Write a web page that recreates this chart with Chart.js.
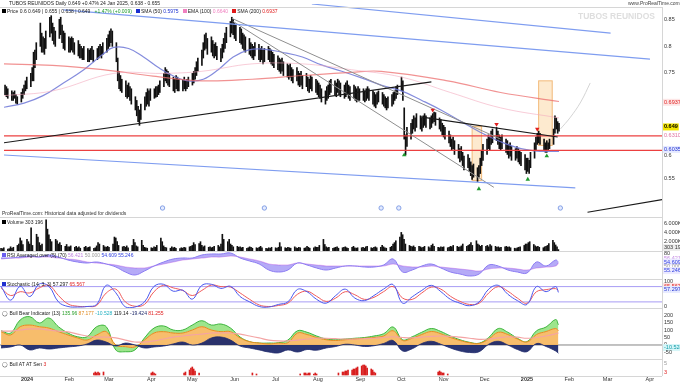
<!DOCTYPE html>
<html lang="en">
<head>
<meta charset="UTF-8" />
<title>Tubos Reunidos Daily</title>
<style>
  body { margin:0; padding:0; width:680px; height:383px; background:#fff; overflow:hidden; position:relative;
         font-family:"Liberation Sans", Arial, sans-serif; }
  .panel { position:absolute; left:0; width:680px; }
  .hline { position:absolute; left:0; width:662px; height:1px; background:#d6d6d6; }
  .vline { position:absolute; left:662px; top:7px; width:1px; height:369px; background:#d6d6d6; }
  .txt { position:absolute; font-size:5px; line-height:6px; white-space:nowrap; color:#222; }
  .sq { display:inline-block; width:4px; height:4px; margin-right:1px; }
</style>
</head>
<body>
<div class="panel" style="top:0;height:218px"><canvas id="cMain"></canvas></div>
<div class="panel" style="top:218px;height:33px"><canvas id="cVol"></canvas></div>
<div class="panel" style="top:251px;height:28px"><canvas id="cRsi"></canvas></div>
<div class="panel" style="top:279px;height:29px"><canvas id="cSto"></canvas></div>
<div class="panel" style="top:308px;height:51px"><canvas id="cBb"></canvas></div>
<div class="panel" style="top:359px;height:24px"><canvas id="cSig"></canvas></div>

<div class="hline" style="top:7px"></div>
<div class="hline" style="top:217px"></div>
<div class="hline" style="top:251px"></div>
<div class="hline" style="top:279px"></div>
<div class="hline" style="top:308px"></div>
<div class="hline" style="top:359px"></div>
<div class="hline" style="top:376px"></div>
<div class="vline"></div>

<div class="txt" style="left:9px;top:0">TUBOS REUNIDOS Daily 0.649 +0.47% 24 Jan 2025, 0.638 - 0.655</div>
<div class="txt" style="left:628px;top:0;color:#444">www.ProRealTime.com</div>
<div class="txt" style="left:578px;top:11px;font-size:8.5px;line-height:10px;font-weight:bold;color:#dedede">TUBOS REUNIDOS</div>
<div class="txt" style="left:2px;top:8px"><span class="sq" style="background:#000"></span>Price 0.6 0.649 | 0.655 | 0.638 | 0.649 &nbsp; <span style="color:#1c9a2c">+1.47% (+0.009)</span> &nbsp; <span class="sq" style="background:#1a2fd0"></span>SMA (50) <span style="color:#1a2fd0">0.5975</span> &nbsp; <span class="sq" style="background:#f080c0"></span>EMA (100) <span style="color:#f080c0">0.6640</span> &nbsp; <span class="sq" style="background:#e01818"></span>SMA (200) <span style="color:#e01818">0.6937</span></div>
<div class="txt" style="left:2px;top:210px;color:#333">ProRealTime.com: Historical data adjusted for dividends</div>
<div class="txt" style="left:2px;top:219px"><span class="sq" style="background:#000"></span>Volume 303 196</div>
<div class="txt" style="left:2px;top:252px"><span class="sq" style="background:#6a5cf0"></span>RSI Averaged over (5) (70) <span style="color:#c080e0">56.421</span> <span style="color:#999">50.000</span> <span style="color:#3040e0">54.609</span> <span style="color:#3040e0">55.246</span></div>
<div class="txt" style="left:2px;top:281px"><span class="sq" style="background:#2030d0"></span>Stochastic (14, 3, 3) 57.297 <span style="color:#e02020">65.567</span></div>
<div class="txt" style="left:2px;top:310px">&#9711; Bull Bear Indicator (13) <span style="color:#2ca02c">135.96</span> <span style="color:#e08a20">87.177</span> <span style="color:#20b0c0">-10.528</span> 119.14 <span style="color:#1f2a6b">-19.424</span> <span style="color:#e02020">81.255</span></div>
<div class="txt" style="left:2px;top:361px">&#9711; Bull AT AT Sen <span style="color:#e02020">3</span></div>

<script src="https://cdn.jsdelivr.net/npm/chart.js"></script>
<script>
// ---- data ----
const monthTicks = ['2024-01-01','2024-02-01','2024-03-01','2024-04-01','2024-05-01','2024-06-01','2024-07-01','2024-08-01',
  '2024-09-01','2024-10-01','2024-11-01','2024-12-01','2025-01-01','2025-02-01','2025-03-01','2025-04-01'];
const monthLabels = ['2024','Feb','Mar','Apr','May','Jun','Jul','Aug','Sep','Oct','Nov','Dec','2025','Feb','Mar','Apr'];

// daily bars from 13 Dec 2023 to 24 Jan 2025 (weekdays), prices x1000
const priceHigh = [
  727,724,720,716,713,716,709,705,713,720,727,735,742,
  749,760,789,793,807,844,825,818,815,829,855,858,844,836,829,851,855,840,829,825,818,815,818,
  815,807,811,804,800,796,800,796,793,796,800,793,796,800,804,800,807,815,822,829,833,
  829,807,778,753,745,738,735,727,731,724,720,705,698,687,680,691,705,713,720,716,720,
  720,724,724,727,735,749,760,756,753,749,742,738,745,742,738,738,742,735,738,742,749,753,
  760,771,778,793,807,822,825,815,818,811,804,807,800,796,804,815,825,836,847,855,851,844,840,
  836,833,825,822,818,815,807,804,800,807,804,796,800,793,796,800,796,793,789,785,
  782,778,775,778,771,767,764,767,760,756,760,753,749,753,745,749,742,738,745,742,738,735,731,
  727,720,716,724,727,735,738,735,731,738,735,731,727,731,735,727,724,727,724,720,724,720,
  720,716,720,724,720,716,713,709,713,716,713,709,705,702,705,709,713,716,724,727,742,
  735,684,633,647,655,662,669,665,673,669,665,669,673,669,665,669,673,676,675,665,662,655,651,
  647,640,633,625,629,622,615,607,611,600,593,596,589,582,575,578,571,575,589,604,615,
  625,633,629,640,644,647,640,633,629,633,625,622,615,618,611,607,611,607,604,600,596,589,
  589,585,600,618,629,636,640,636,625,618,622,618,625,644,669,665,658,655
];
const priceLow = [
  709,705,702,698,698,702,693,691,695,702,709,716,720,
  724,735,735,760,775,800,789,789,785,796,818,825,811,804,800,815,822,807,796,793,789,789,793,
  789,785,782,778,778,775,775,771,771,775,775,771,775,778,782,778,785,789,796,800,807,
  800,771,735,720,716,713,705,702,705,698,691,680,669,658,651,662,680,687,691,687,698,
  702,704,705,709,713,724,735,731,727,724,716,713,720,716,716,716,720,716,720,724,727,731,
  738,745,753,764,778,793,796,785,789,782,778,782,775,771,778,789,796,807,818,825,822,815,811,
  807,804,796,793,789,785,782,778,775,782,775,771,775,767,771,775,771,767,764,760,
  756,753,749,753,745,742,738,742,735,731,735,727,724,727,720,724,716,713,720,716,713,709,705,
  702,695,691,698,702,709,713,709,705,713,709,705,702,705,709,702,698,702,698,695,698,698,
  698,695,698,702,698,691,687,684,691,695,691,687,684,680,684,687,691,698,702,709,716,
  698,625,595,611,625,636,644,640,647,644,640,647,651,647,644,647,655,658,651,644,640,633,629,
  625,618,611,604,607,596,589,582,585,575,567,571,564,556,549,553,545,553,560,575,585,
  596,607,604,615,618,622,615,607,604,607,600,596,589,593,585,585,589,582,578,575,567,560,
  564,560,571,589,604,615,618,615,604,600,600,604,607,615,636,644,636,640
];
// volume in thousands
const volume = [
  600,500,700,400,500,900,600,800,1200,1500,2800,2200,1400,
  2500,2000,1500,5000,1200,3600,3000,1800,1200,1500,6700,4700,3500,2500,2000,2500,2200,1500,1800,1200,1000,1400,900,
  900,1100,800,1000,700,900,600,800,1000,700,800,900,600,700,1100,1800,1500,1200,900,800,1000,
  800,1500,3000,2800,2000,1200,900,1000,800,1100,700,1200,2500,1800,1100,900,2300,1200,800,700,600,
  700,600,900,800,1200,2800,2000,1100,800,700,600,900,700,800,600,500,700,600,800,700,900,1000,
  1200,1800,1400,1600,2000,1200,900,1100,800,900,700,800,1000,1200,900,1500,3600,2500,2000,2500,1500,1200,900,
  1000,800,900,700,800,600,700,900,800,600,700,600,800,1000,700,600,500,700,600,800,
  700,600,800,1800,900,700,600,800,700,600,900,700,600,800,700,600,700,1000,800,600,700,900,800,
  800,1200,2500,1400,900,700,800,600,700,800,900,600,700,800,900,700,600,800,1000,700,600,700,
  700,800,600,900,1000,700,600,800,900,700,800,1200,900,700,600,800,1000,1500,1800,2200,3000,
  4000,3500,2500,1500,1200,1000,900,1100,800,1000,900,700,800,1000,900,700,1200,1500,1000,800,700,900,800,
  900,700,800,1000,900,1200,1000,800,900,1100,1500,1000,1200,1400,1800,1200,2200,1500,1300,1000,1200,
  1000,1200,900,1400,1100,1000,800,900,700,800,900,1000,800,900,700,600,500,700,800,900,1200,1500,
  1500,1800,2000,1400,1100,900,1000,800,700,900,1000,1200,1600,2300,1800,1300,900,303
];

const sma50Dates = ['2023-12-12','2023-12-27','2024-01-10','2024-01-25','2024-02-09','2024-02-23','2024-03-02','2024-03-13',
  '2024-03-24','2024-04-04','2024-04-15','2024-04-26','2024-05-07','2024-05-18','2024-05-29','2024-06-09','2024-06-20',
  '2024-07-04','2024-07-19','2024-08-02','2024-08-17','2024-09-01','2024-09-15','2024-09-30','2024-10-15','2024-10-29',
  '2024-11-13','2024-11-27','2024-12-12','2024-12-27','2025-01-10','2025-01-24'];
const sma50Values = [0.685,0.693,0.707,0.731,0.756,0.785,0.798,0.796,0.780,0.760,0.744,0.735,0.738,0.756,0.780,0.793,0.795,
  0.789,0.780,0.765,0.753,0.740,0.727,0.716,0.698,0.680,0.658,0.638,0.620,0.607,0.602,0.602];
const sma200Dates = ['2023-12-12','2024-01-17','2024-02-23','2024-03-31','2024-05-06','2024-06-12','2024-07-19',
  '2024-08-24','2024-09-15','2024-11-03','2024-12-12','2025-01-24'];
const sma200Values = [0.767,0.764,0.756,0.744,0.735,0.738,0.745,0.751,0.753,0.735,0.713,0.696];
const ema100Dates = ['2023-12-12','2024-01-17','2024-03-02','2024-04-07','2024-05-06','2024-06-12','2024-07-19',
  '2024-08-24','2024-09-30','2024-11-05','2024-12-12','2025-01-24'];
const ema100Values = [0.707,0.716,0.749,0.749,0.753,0.767,0.767,0.756,0.742,0.713,0.684,0.665];

// drawn trend lines: [start date, start price, end date, end price]
const blueLines = [
  ['2024-01-25',0.869,'2025-04-01',0.776],
  ['2024-07-26',0.880,'2025-03-03',0.825],
  ['2023-12-12',0.595,'2025-02-05',0.533]
];
const blackLines = [
  ['2023-12-12',0.618,'2024-10-22',0.733],
  ['2024-10-14',0.667,'2025-01-23',0.629],
  ['2025-02-14',0.487,'2025-04-10',0.511]
];
const greyLines = [
  ['2024-05-28',0.853,'2024-12-12',0.625],
  ['2024-05-29',0.847,'2024-12-07',0.534]
];
const redLevels = [0.631, 0.6036];
const projDates = ['2025-01-25','2025-02-01','2025-02-09','2025-02-16'];
const projValues = [0.644,0.665,0.695,0.731];
const boxes = [['2024-11-21','2024-11-28',0.649,0.547], ['2025-01-09','2025-01-19',0.735,0.613]];
const upArrowDates = ['2024-10-02','2024-11-26','2025-01-01','2025-01-15'];
const upArrowValues = [0.595,0.531,0.549,0.593];
const downArrowDates = ['2024-10-23','2024-12-09','2025-01-08'];
const downArrowValues = [0.680,0.653,0.644];
const eventDates = ['2024-04-07','2024-06-21','2024-09-15','2024-09-28','2025-01-25'];

// weekly readings of the indicator panels (13 Dec 2023 every 7 days, then 24 Jan 2025)
const rsiFast = [67.5,67.5,70,72.5,70,75,70,62.5,57.5,55,57.5,52.5,45,32.5,25,35,47.5,57.5,65,67.5,67.5,75,77.5,77.5,80,67.5,60,52.5,37.5,32.5,37.5,55,
  50,42.5,37.5,42.5,47.5,47.5,45,45,50,65,32.5,37.5,47.5,52.5,42.5,32.5,27.5,22.5,27.5,50,47.5,37.5,32.5,30,57.5,47.5,62.5,57.5];
const rsiSlow = [65,67.5,67.5,70,70,70,67.5,65,62.5,57.5,55,52.5,50,45,42.5,42.5,47.5,52.5,57.5,62.5,65,67.5,70,70,72.5,70,65,60,52.5,50,50,55,
  52.5,50,47.5,47.5,47.5,47.5,47.5,47.5,47.5,52.5,47.5,45,45,47.5,45,42.5,40,37.5,35,40,42.5,42.5,40,37.5,42.5,45,47.5,55];
const stochK = [81,27,81,41,90,81,20,2,0,2,10,85,56,0,0,20,81,89,62,66,31,85,89,73,81,41,20,2,0,10,20,69,
  60,30,15,45,70,35,25,45,70,88,15,40,65,85,60,30,15,5,20,70,85,50,25,10,80,60,80,57.3];
const stochD = [75,45,60,55,75,85,45,12,3,2,6,55,70,20,3,10,60,85,75,65,45,65,86,80,78,55,30,8,2,6,15,50,
  62,42,22,35,60,48,30,38,60,80,35,30,55,78,70,42,22,10,15,55,80,62,35,15,60,68,72,65.6];
const bbGreen = [95,80,167,189,147,180,122,80,55,55,122,122,-33,-45,-33,47,113,127,100,100,133,162,133,140,113,53,22,13,13,15,33,95,
  85,60,40,35,40,45,50,60,75,120,35,55,85,110,90,60,35,18,12,50,110,85,45,22,95,120,170,135];
const bbOrange = [89,67,122,133,122,113,89,67,47,33,67,89,0,-11,-13,33,80,89,80,80,100,122,100,89,89,47,22,13,7,13,15,80,
  70,50,35,30,35,40,45,50,60,95,30,45,70,90,75,50,30,15,10,40,85,70,40,20,70,90,110,95];
const bbNavy = [-20,-13,0,-33,-20,-27,-20,-13,-7,7,33,20,-7,13,0,-20,-13,-7,7,20,0,13,47,53,33,-7,-20,-33,-47,-53,-33,-47,
  -30,-35,-20,-10,5,0,-10,-5,10,30,-40,-25,10,25,5,-20,-40,-50,-45,5,25,0,-30,-45,10,-10,-40,-55];
const bbSignal = [93,93,100,107,107,100,93,87,73,60,53,53,47,33,20,20,27,40,53,60,67,73,80,80,80,73,60,47,33,27,27,33,
  40,45,45,42,40,40,42,45,50,55,50,48,52,58,60,58,52,45,38,40,48,55,52,45,50,60,75,81];

const signalDates = ['2024-02-19','2024-02-20','2024-02-21','2024-02-22','2024-02-23','2024-02-26',
  '2024-04-01','2024-04-02','2024-04-03','2024-04-04',
  '2024-04-25','2024-04-26','2024-04-29','2024-04-30','2024-05-01','2024-05-02','2024-05-03','2024-05-06',
  '2024-06-14','2024-06-17',
  '2024-07-19','2024-07-22','2024-07-23','2024-07-24','2024-07-25','2024-07-26','2024-07-29','2024-07-30','2024-07-31',
  '2024-08-16','2024-08-19','2024-08-20','2024-08-21','2024-08-22','2024-08-23','2024-08-26','2024-08-27','2024-08-28',
  '2024-08-29','2024-08-30','2024-09-02','2024-09-03','2024-09-04','2024-09-05','2024-09-06','2024-09-09','2024-09-10',
  '2024-09-11','2024-09-12',
  '2024-10-28','2024-10-29','2024-10-30','2024-10-31','2024-11-01','2024-11-04'];
const signalValues = [2,3,2,3,2,3, 2,3,2,1, 2,3,5,7,8,6,4,2, 2,1, 1,2,2,1,2,2,1,2,1,
  2,3,3,4,4,5,5,6,6,7,8,9,10,10,9,7,6,5,3,2, 3,4,3,2,2,1];

// ---- helpers ----
const DAY0 = Date.UTC(2024, 0, 1);
function day(s) { return Math.round((Date.parse(s + 'T00:00:00Z') - DAY0) / 86400000); }
const X_MIN = -19.77, X_MAX = 464.86;

const tradeDays = [];
for (let d = day('2023-12-13'); tradeDays.length < priceHigh.length; d++) {
  const wd = new Date(DAY0 + d * 86400000).getUTCDay();
  if (wd !== 0 && wd !== 6) tradeDays.push(d);
}
const indDays = [];
for (let d = day('2023-12-13'); d <= day('2025-01-24'); d += 7) indDays.push(d);
indDays.push(day('2025-01-24'));

const pts = (days, vals) => days.map((d, i) => ({ x: d, y: vals[i] }));
const datePts = (dates, vals) => dates.map((s, i) => ({ x: day(s), y: vals[i] }));
const flat = (v) => [{ x: X_MIN, y: v }, { x: X_MAX, y: v }];

Chart.defaults.font.family = '"Liberation Sans", Arial, sans-serif';

const overlay = {
  id: 'overlay',
  beforeDatasetsDraw(chart, args, opts) {
    const { ctx, scales: { x, y } } = chart;
    (opts.boxes || []).forEach(b => {
      const x0 = x.getPixelForValue(day(b[0])), x1 = x.getPixelForValue(day(b[1]));
      const y0 = y.getPixelForValue(b[2]), y1 = y.getPixelForValue(b[3]);
      ctx.save();
      ctx.fillStyle = 'rgba(252,214,160,0.5)';
      ctx.fillRect(x0, y0, x1 - x0, y1 - y0);
      ctx.strokeStyle = 'rgba(242,180,110,0.9)';
      ctx.lineWidth = 1;
      ctx.strokeRect(x0, y0, x1 - x0, y1 - y0);
      ctx.restore();
    });
  },
  afterDraw(chart, args, opts) {
    const { ctx, chartArea, scales: { x, y } } = chart;
    ctx.save();
    (opts.events || []).forEach(s => {
      const px = x.getPixelForValue(day(s));
      ctx.beginPath();
      ctx.arc(px, chartArea.bottom - 6, 2.2, 0, Math.PI * 2);
      ctx.fillStyle = '#e4ebff';
      ctx.fill();
      ctx.strokeStyle = '#6f8fe0';
      ctx.lineWidth = 0.8;
      ctx.stroke();
    });
    (opts.tags || []).forEach(t => {
      const py = y.getPixelForValue(t.v);
      ctx.font = (t.bold ? 'bold ' : '') + '5.5px "Liberation Sans", Arial';
      const w = ctx.measureText(t.t).width;
      if (t.bg) {
        ctx.fillStyle = t.bg;
        ctx.fillRect(chartArea.right + 1, py - 3.5, w + 2, 7);
      }
      ctx.fillStyle = t.c || '#333';
      ctx.textBaseline = 'middle';
      ctx.fillText(t.t, chartArea.right + 2, py);
    });
    if (opts.months) {
      ctx.textAlign = 'center';
      ctx.textBaseline = 'middle';
      ctx.fillStyle = '#333';
      monthTicks.forEach((t, i) => {
        const yr = monthLabels[i].length === 4;
        ctx.font = (yr ? 'bold ' : '') + '5.5px "Liberation Sans", Arial';
        ctx.fillText(monthLabels[i], x.getPixelForValue(day(t)), chartArea.bottom - 4);
      });
    }
    ctx.restore();
  }
};
Chart.register(overlay);

function panelOptions(yMin, yMax, overlayOpts) {
  return {
    responsive: true,
    maintainAspectRatio: false,
    animation: false,
    layout: { padding: 0 },
    plugins: { legend: { display: false }, tooltip: { enabled: false }, overlay: overlayOpts || {} },
    scales: {
      x: { type: 'linear', min: X_MIN, max: X_MAX, offset: false, display: false },
      y: {
        position: 'right', min: yMin, max: yMax,
        grid: { display: false }, border: { display: false },
        ticks: { display: false },
        afterFit: s => { s.width = 18; }
      }
    }
  };
}

function seg(l, color, w) {
  return { type: 'line', data: [{ x: day(l[0]), y: l[1] }, { x: day(l[2]), y: l[3] }],
    borderColor: color, borderWidth: w || 1, pointRadius: 0, order: 1 };
}

// ---- price panel ----
const mainSets = [];
mainSets.push({ type: 'scatter', data: datePts(upArrowDates, upArrowValues), pointStyle: 'triangle',
  pointRadius: 2.6, backgroundColor: '#1f9a2f', borderWidth: 0, order: 0 });
mainSets.push({ type: 'scatter', data: datePts(downArrowDates, downArrowValues), pointStyle: 'triangle', rotation: 180,
  pointRadius: 2.6, backgroundColor: '#e02020', borderWidth: 0, order: 0 });
blueLines.forEach(l => mainSets.push(seg(l, '#7f9df0', 1.2)));
blackLines.forEach(l => mainSets.push(seg(l, '#1a1a1a', 1.2)));
greyLines.forEach(l => mainSets.push(seg(l, '#8f8f8f', 1)));
redLevels.forEach(v => mainSets.push({ type: 'line', data: flat(v), borderColor: '#ec4040', borderWidth: 1.3, pointRadius: 0, order: 1 }));
mainSets.push({ type: 'line', data: datePts(projDates, projValues), borderColor: '#d4d4d4', borderWidth: 1, pointRadius: 0, tension: 0.4, order: 1 });
mainSets.push({ type: 'line', data: datePts(ema100Dates, ema100Values), borderColor: 'rgba(244,170,190,0.6)', borderWidth: 1, pointRadius: 0, tension: 0.4, order: 3 });
mainSets.push({ type: 'line', data: datePts(sma200Dates, sma200Values), borderColor: 'rgba(236,110,110,0.75)', borderWidth: 1.2, pointRadius: 0, tension: 0.4, order: 3 });
mainSets.push({ type: 'line', data: datePts(sma50Dates, sma50Values), borderColor: 'rgba(110,120,215,0.85)', borderWidth: 1.2, pointRadius: 0, tension: 0.4, order: 3 });
mainSets.push({ type: 'bar', data: tradeDays.map((d, i) => ({ x: d, y: [priceLow[i] / 1000, priceHigh[i] / 1000] })),
  backgroundColor: '#111', barThickness: 1, grouped: false, order: 5 });

new Chart(document.getElementById('cMain'), {
  type: 'bar',
  data: { datasets: mainSets },
  options: panelOptions(0.48364, 0.88, {
    boxes: boxes,
    events: eventDates,
    tags: [
      { v: 0.85, t: '0.85' }, { v: 0.8, t: '0.8' }, { v: 0.75, t: '0.75' },
      { v: 0.6945, t: '0.6937', c: '#e02020', bg: '#fde6e6' },
      { v: 0.648, t: '0.649', c: '#000', bg: '#f3e500', bold: true },
      { v: 0.6325, t: '0.6310', c: '#e070a0' },
      { v: 0.6055, t: '0.6035', c: '#2030d0', bg: '#e6eaff' },
      { v: 0.595, t: '0.6' }, { v: 0.55, t: '0.55' }
    ]
  })
});

// ---- volume ----
new Chart(document.getElementById('cVol'), {
  type: 'bar',
  data: { datasets: [{ data: tradeDays.map((d, i) => ({ x: d, y: volume[i] })), backgroundColor: '#111',
    barThickness: 1, grouped: false }] },
  options: panelOptions(0, 7100, { tags: [
    { v: 6000, t: '6.000K' }, { v: 4000, t: '4.000K' }, { v: 2000, t: '2.000K' },
    { v: 700, t: '303 196', bg: '#ececec' }
  ] })
});

// ---- RSI ----
new Chart(document.getElementById('cRsi'), {
  type: 'line',
  data: { datasets: [
    { data: pts(indDays, rsiFast), borderColor: '#8c7cf2', borderWidth: 1, pointRadius: 0, tension: 0.4,
      fill: { target: 1, above: 'rgba(120,100,240,0.55)', below: 'rgba(120,100,240,0.55)' } },
    { data: pts(indDays, rsiSlow), borderColor: '#e4b4f2', borderWidth: 1.2, pointRadius: 0, tension: 0.4 }
  ] },
  options: panelOptions(15, 85, { tags: [
    { v: 80, t: '80' }, { v: 67.5, t: '56.421', c: '#c080e0' }, { v: 57.5, t: '54.609', c: '#3040e0', bg: '#eceaff' },
    { v: 46, t: '50.000', c: '#999' }, { v: 36, t: '55.246', c: '#3040e0', bg: '#eceaff' }
  ] })
});

// ---- Stochastic ----
new Chart(document.getElementById('cSto'), {
  type: 'line',
  data: { datasets: [
    { data: pts(indDays, stochK), borderColor: '#4a58ee', borderWidth: 1, pointRadius: 0, tension: 0.4 },
    { data: pts(indDays, stochD), borderColor: '#f05a5a', borderWidth: 1, pointRadius: 0, tension: 0.4 },
    { data: flat(80), borderColor: '#a79cf4', borderWidth: 1, pointRadius: 0 },
    { data: flat(20), borderColor: '#a79cf4', borderWidth: 1, pointRadius: 0 }
  ] },
  options: panelOptions(-3.9, 109.8, { tags: [
    { v: 100, t: '100' }, { v: 81, t: '65.567', c: '#e02020', bg: '#fde6e6' },
    { v: 69, t: '57.297', c: '#2030d0', bg: '#e6eaff' }, { v: 2, t: '0' }
  ] })
});

// ---- Bull / Bear ----
new Chart(document.getElementById('cBb'), {
  type: 'line',
  data: { datasets: [
    { data: pts(indDays, bbSignal), borderColor: '#f4a4a4', borderWidth: 1.2, pointRadius: 0, tension: 0.4 },
    { data: pts(indDays, bbNavy), borderColor: '#1f2a6b', backgroundColor: 'rgba(31,42,107,0.95)', borderWidth: 0.8,
      pointRadius: 0, tension: 0.4, fill: 'origin' },
    { data: pts(indDays, bbOrange), borderColor: '#e68a1e', backgroundColor: 'rgba(246,182,92,0.9)', borderWidth: 1,
      pointRadius: 0, tension: 0.4, fill: 'origin' },
    { data: pts(indDays, bbGreen), borderColor: '#3cb43c', backgroundColor: 'rgba(140,224,120,0.85)', borderWidth: 1,
      pointRadius: 0, tension: 0.4, fill: { target: 2 } },
    { data: flat(0), borderColor: '#333', borderWidth: 0.6, pointRadius: 0 }
  ] },
  options: panelOptions(-93.4, 246.8, { tags: [
    { v: 200, t: '200' }, { v: 150, t: '150' }, { v: 100, t: '100' }, { v: 50, t: '50' }, { v: 2, t: '0' },
    { v: -17, t: '-10.528', c: '#109aa8', bg: '#d6f6f8' }, { v: -50, t: '-50' }
  ] })
});

// ---- signal histogram + time axis (labels drawn under the bars' zero line) ----
new Chart(document.getElementById('cSig'), {
  type: 'bar',
  data: { datasets: [{ data: datePts(signalDates, signalValues), backgroundColor: '#d81e1e', barThickness: 1, grouped: false }] },
  options: panelOptions(-8, 16, { months: true, tags: [{ v: 12, t: '5', c: '#999' }, { v: 3, t: '3', c: '#e02020' }] })
});
</script>
</body>
</html>
